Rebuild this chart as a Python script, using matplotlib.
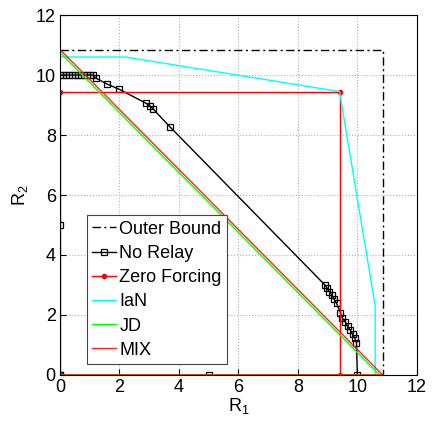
import numpy as np
import matplotlib
matplotlib.use("Agg")
import matplotlib.pyplot as plt

plt.rcParams['font.family'] = ['Liberation Sans', 'DejaVu Sans']
plt.rcParams['mathtext.default'] = 'regular'

# data
outer_r1 = [0, 10.85, 10.85]
outer_r2 = [10.85, 10.85, 0]

norelay_r1 = [0, 0, 0, 0.1, 0.2, 0.3, 0.4, 0.5, 0.6, 0.7, 0.8, 0.9, 1.0, 1.1, 1.2, 1.58, 2.0,
              2.89, 3.03, 3.13, 3.7, 8.91, 8.99, 9.05, 9.14, 9.22, 9.30, 9.43, 9.50, 9.59,
              9.67, 9.76, 9.84, 9.92, 9.97, 10.0, 5.0, 0]
norelay_r2 = [0, 5, 10, 10, 10, 10, 10, 10, 10, 10, 10, 10, 10, 10, 9.9, 9.7, 9.52,
              9.06, 8.97, 8.87, 8.27, 3.0, 2.89, 2.78, 2.67, 2.52, 2.39, 2.08, 1.89, 1.78,
              1.63, 1.5, 1.36, 1.22, 1.08, 0, 0, 0]

zf_r1 = [0, 0, 9.4, 9.4, 0]
zf_r2 = [0, 9.45, 9.45, 0, 0]

ian_r1 = [0, 2.2, 9.4, 10.6, 10.6]
ian_r2 = [10.6, 10.6, 9.45, 2.3, 0]

jd_r1 = [0, 0, 10.75, 0]
jd_r2 = [0, 10.75, 0, 0]

mix_r1 = [0, 0, 10.85, 0]
mix_r2 = [0, 10.85, 0, 0]

fig = plt.figure(figsize=(4.36, 4.23), dpi=100)
ax = fig.add_axes([0.1376, 0.1135, 0.8184, 0.851])

ax.plot(outer_r1, outer_r2, '-.', color='black', lw=1, dashes=(6, 2.5, 1.5, 2.5), label='Outer Bound')
ax.plot(norelay_r1, norelay_r2, '-s', color='black', lw=1, ms=4.5, mfc='none', mew=0.9, label='No Relay')
ax.plot(zf_r1, zf_r2, '-', marker='.', color='red', lw=1, ms=6, label='Zero Forcing')
ax.plot(ian_r1, ian_r2, '-', color='cyan', lw=1, label='IaN')
ax.plot(jd_r1, jd_r2, '-', color='#00ff00', lw=1, label='JD')
ax.plot(mix_r1, mix_r2, '-', color='#ff2020', lw=1, label='MIX')

ax.set_xlim(0, 12)
ax.set_ylim(0, 12)
ax.set_xticks(np.arange(0, 13, 2))
ax.set_yticks(np.arange(0, 13, 2))
ax.tick_params(labelsize=13, direction='in', length=4, pad=3)
ax.grid(True, linestyle=':', color='#b0b0b0', lw=0.8)
ax.set_xlabel('R$_1$', fontsize=13, labelpad=0)
ax.set_ylabel('R$_2$', fontsize=13, labelpad=4)
for s in ax.spines.values():
    s.set_linewidth(0.8)

leg = ax.legend(loc='lower left', bbox_to_anchor=(0.075, 0.03), fontsize=13,
                fancybox=False, edgecolor='#444444', framealpha=1,
                handlelength=1.3, handletextpad=0.2, labelspacing=0.4,
                borderpad=0.3, borderaxespad=0)
leg.get_frame().set_linewidth(0.8)

fig.savefig('out.png', dpi=100)
